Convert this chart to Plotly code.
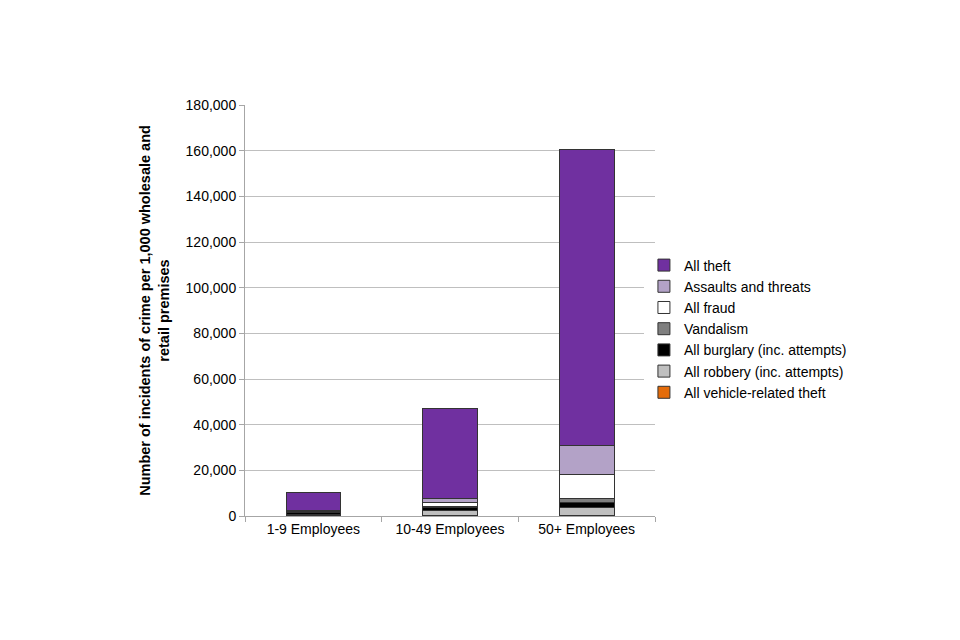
import plotly.graph_objects as go

categories = ["1-9 Employees", "10-49 Employees", "50+ Employees"]

# stacked bottom to top
vehicle = [150, 200, 300]
robbery = [500, 2200, 3600]
burglary = [700, 1200, 1800]
vandalism = [300, 700, 2000]
fraud = [300, 1500, 10500]
assaults = [300, 1700, 12800]
theft = [8200, 39400, 129600]

series = [
    ("All vehicle-related theft", vehicle, "#E46C0A"),
    ("All robbery (inc. attempts)", robbery, "#BFBFBF"),
    ("All burglary (inc. attempts)", burglary, "#000000"),
    ("Vandalism", vandalism, "#7F7F7F"),
    ("All fraud", fraud, "#FFFFFF"),
    ("Assaults and threats", assaults, "#B3A2C7"),
    ("All theft", theft, "#7030A0"),
]

fig = go.Figure()

for name, values, colour in series:
    fig.add_trace(go.Bar(
        x=categories,
        y=values,
        name=name,
        marker=dict(color=colour, line=dict(color="#333333", width=1))
    ))

fig.update_layout(
    barmode="stack",
    bargap=0.6,
    width=960,
    height=640,
    plot_bgcolor="white",
    paper_bgcolor="white",
    font=dict(family="Liberation Sans, Arial, sans-serif", size=14, color="#000000"),
    margin=dict(l=237, r=313, t=97, b=132),
    legend=dict(
        x=0.973,
        y=0.455,
        xanchor="left",
        yanchor="middle",
        traceorder="reversed",
        font=dict(size=14),
        itemwidth=30,
        tracegroupgap=0
    ),
    xaxis=dict(
        showline=True,
        linecolor="#A6A6A6",
        ticks="outside",
        tickson="boundaries",
        tickcolor="#A6A6A6",
        ticklen=5
    ),
    yaxis=dict(
        range=[0, 180000],
        dtick=20000,
        tickformat=",d",
        showline=True,
        linecolor="#A6A6A6",
        ticks="outside",
        tickcolor="#A6A6A6",
        ticklen=5,
        gridcolor="#BFBFBF",
        zeroline=False,
        title=dict(
            text="<b>Number of incidents of crime per 1,000 wholesale and<br>retail premises</b>",
            font=dict(size=14.5),
            standoff=12
        )
    )
)

fig.write_html("out.html")
